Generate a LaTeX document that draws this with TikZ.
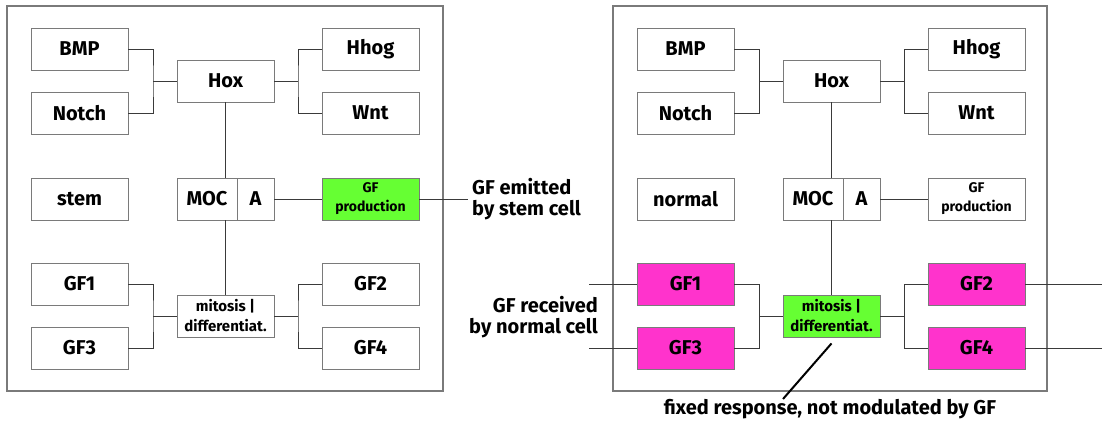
\documentclass[tikz,border=0pt]{standalone}
\usepackage{fontspec}
\setmainfont{Fira Sans}
\usepackage{tikz}
\usetikzlibrary{calc}
\definecolor{gfgreen}{HTML}{66FF33}
\definecolor{gfpink}{HTML}{FF33CC}
\definecolor{boxgray}{HTML}{7A7A7A}
\definecolor{wiregray}{HTML}{3A3A3A}
\tikzset{
  cellbox/.style={draw=boxgray, line width=0.9pt, minimum width=97pt, minimum height=42pt, inner sep=0pt, font=\bfseries\fontsize{20}{21}\selectfont},
  smallbox/.style={cellbox, font=\bfseries\fontsize{15}{20}\selectfont, align=center},
  tinybox/.style={cellbox, font=\bfseries\fontsize{14}{19}\selectfont, align=center},
  wire/.style={draw=wiregray, line width=1pt},
  outer/.style={draw=boxgray, line width=1.3pt},
  note/.style={font=\bfseries\fontsize{20}{21}\selectfont, inner sep=0pt}
}

\begin{document}
\begin{tikzpicture}[x=1pt,y=-1pt]
			%%%%% START %%%%%
			\useasboundingbox (0,0) rectangle (1105,421);
			
			% stem cell
			\draw[outer] (7,6) rectangle (443,391);
			\node[cellbox] (lbmp) at (79.5,49) {BMP};
			\node[cellbox] (lnotch) at (79.5,113) {Notch};
			\node[cellbox] (lhox) at (225.5,81) {Hox};
			\node[cellbox] (lhhog) at (370.5,49) {Hhog};
			\node[cellbox] (lwnt) at (370.5,113) {Wnt};
			\node[cellbox] (lstem) at (79.5,199) {stem};
			\node[cellbox, minimum width=60pt] (lmoc) at (207,199) {MOC};
			\node[cellbox, minimum width=37pt] (la) at (255.5,199) {A};
			\node[tinybox, fill=gfgreen] (lgfp) at (370.5,199) {GF\\production};
			\node[cellbox] (lgf1) at (79.5,284) {GF1};
			\node[cellbox] (lgf3) at (79.5,348) {GF3};
			\node[smallbox] (lmit) at (225.5,316) {mitosis |\\differentiat.};
			\node[cellbox] (lgf2) at (370.5,284) {GF2};
			\node[cellbox] (lgf4) at (370.5,348) {GF4};
			
			\coordinate (lj1) at (153,81);
			\coordinate (lj2) at (298,81);
			\coordinate (lj3) at (153,316);
			\coordinate (lj4) at (298,316);
			\draw[wire] (lbmp.east) -| (lj1) |- (lnotch.east);
			\draw[wire] (lj1) -- (lhox.west);
			\draw[wire] (lhhog.west) -| (lj2) |- (lwnt.west);
			\draw[wire] (lj2) -- (lhox.east);
			\draw[wire] (lhox.south) -- (lhox.south |- lmoc.north);
			\draw[wire] (lhox.south |- lmoc.south) -- (lmit.north);
			\draw[wire] (la.east) -- (lgfp.west);
			\draw[wire] (lgf1.east) -| (lj3) |- (lgf3.east);
			\draw[wire] (lj3) -- (lmit.west);
			\draw[wire] (lgf2.west) -| (lj4) |- (lgf4.west);
			\draw[wire] (lj4) -- (lmit.east);
			
			\coordinate (lout) at (468,199);
			\draw[wire] (lgfp.east) -- (lout);
			\node[note, anchor=west, align=left] (emit) at (472,199) {GF emitted\\by stem cell};
			
			% normal cell
			\draw[outer] (613,6) rectangle (1047,391);
			\node[cellbox] (rbmp) at (685.5,49) {BMP};
			\node[cellbox] (rnotch) at (685.5,113) {Notch};
			\node[cellbox] (rhox) at (831.5,81) {Hox};
			\node[cellbox] (rhhog) at (976.5,49) {Hhog};
			\node[cellbox] (rwnt) at (976.5,113) {Wnt};
			\node[cellbox] (rnormal) at (685.5,199) {normal};
			\node[cellbox, minimum width=60pt] (rmoc) at (813,199) {MOC};
			\node[cellbox, minimum width=37pt] (ra) at (861.5,199) {A};
			\node[tinybox] (rgfp) at (976.5,199) {GF\\production};
			\node[cellbox, fill=gfpink] (rgf1) at (685.5,284) {GF1};
			\node[cellbox, fill=gfpink] (rgf3) at (685.5,348) {GF3};
			\node[smallbox, fill=gfgreen] (rmit) at (831.5,316) {mitosis |\\differentiat.};
			\node[cellbox, fill=gfpink] (rgf2) at (976.5,284) {GF2};
			\node[cellbox, fill=gfpink] (rgf4) at (976.5,348) {GF4};
			
			\coordinate (rj1) at (759,81);
			\coordinate (rj2) at (904,81);
			\coordinate (rj3) at (759,316);
			\coordinate (rj4) at (904,316);
			\draw[wire] (rbmp.east) -| (rj1) |- (rnotch.east);
			\draw[wire] (rj1) -- (rhox.west);
			\draw[wire] (rhhog.west) -| (rj2) |- (rwnt.west);
			\draw[wire] (rj2) -- (rhox.east);
			\draw[wire] (rhox.south) -- (rhox.south |- rmoc.north);
			\draw[wire] (rhox.south |- rmoc.south) -- (rmit.north);
			\draw[wire] (ra.east) -- (rgfp.west);
			\draw[wire] (rgf1.east) -| (rj3) |- (rgf3.east);
			\draw[wire] (rj3) -- (rmit.west);
			\draw[wire] (rgf2.west) -| (rj4) |- (rgf4.west);
			\draw[wire] (rj4) -- (rmit.east);
			
			\coordinate (rin1) at (589,284);
			\coordinate (rin3) at (589,348);
			\coordinate (rout2) at (1102,284);
			\coordinate (rout4) at (1102,348);
			\draw[wire] (rin1) -- (rgf1.west);
			\draw[wire] (rin3) -- (rgf3.west);
			\draw[wire] (rgf2.east) -- (rout2);
			\draw[wire] (rgf4.east) -- (rout4);
			\node[note, anchor=east, align=right] (recv) at (598,317) {GF received\\by normal cell};
			
			\node[note] (fixed) at (830,409) {fixed response, not modulated by GF};
			\coordinate (fixtip) at (783,399);
			\draw[line width=2pt] ([yshift=-6pt]rmit.south) -- (fixtip);
			
			%%%%% END %%%%%
		\end{tikzpicture}
\end{document}
